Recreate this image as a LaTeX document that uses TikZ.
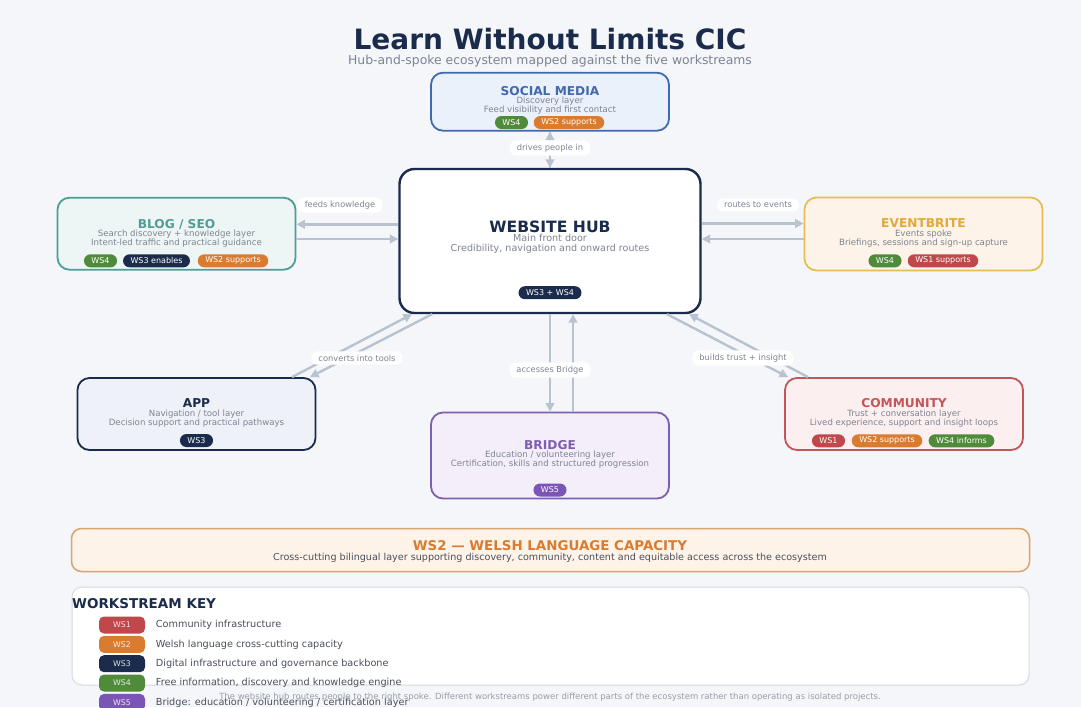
\documentclass[tikz,border=0pt]{standalone}
\usepackage{fontspec}
\setmainfont{DejaVu Sans}
\usetikzlibrary{arrows.meta}
\definecolor{bgcol}{HTML}{F4F6F9}
\definecolor{navy}{HTML}{1B2B4B}
\definecolor{subgray}{HTML}{7D8492}
\definecolor{keyink}{HTML}{4A4F5A}
\definecolor{flowgray}{HTML}{B9C2CF}
\definecolor{blueline}{HTML}{4169B0}
\definecolor{bluefill}{HTML}{EAF1FB}
\definecolor{tealline}{HTML}{4E9E97}
\definecolor{tealfill}{HTML}{EDF6F4}
\definecolor{goldline}{HTML}{E6BC55}
\definecolor{goldtext}{HTML}{E0A93A}
\definecolor{creamfill}{HTML}{FDF3E9}
\definecolor{appfill}{HTML}{EEF1F8}
\definecolor{purpleline}{HTML}{7D5FB2}
\definecolor{purplefill}{HTML}{F4EEFA}
\definecolor{redline}{HTML}{C2565A}
\definecolor{redfill}{HTML}{FBEFEF}
\definecolor{barline}{HTML}{D9A26E}
\definecolor{keyline}{HTML}{D3DAE3}
\definecolor{wsred}{HTML}{C0474A}
\definecolor{wsorange}{HTML}{D97C30}
\definecolor{wsgreen}{HTML}{4F8B3B}
\definecolor{wspurple}{HTML}{7B55B5}
\begin{document}
\begin{tikzpicture}[x=1pt,y=-1pt,
	spoke/.style={rounded corners=12pt, line width=1.8pt, minimum width=238pt},
	head/.style={font=\bfseries\fontsize{12.2}{13}\selectfont, inner sep=0pt, text depth=0pt},
	sub/.style={text=subgray, font=\fontsize{8.6}{9}\selectfont, inner sep=0pt, text height=6.3pt, text depth=1.6pt},
	badge/.style={fill=#1, text=white, rounded corners=6.5pt, minimum height=13pt, inner xsep=7.5pt, inner ysep=0pt, font=\fontsize{8}{8}\selectfont},
	flow/.style={draw=flowgray, line width=2.4pt, -{Triangle[length=8.5pt,width=8.5pt]}},
	tag/.style={fill=white, rounded corners=6pt, text=subgray, font=\fontsize{8.3}{9}\selectfont, inner xsep=7pt, inner ysep=3.5pt},
	keybadge/.style={fill=#1, text=white!85!#1, rounded corners=5pt, minimum width=46pt, minimum height=17pt, inner sep=0pt, font=\fontsize{7.8}{8}\selectfont},
	keyrow/.style={anchor=west, text=keyink, font=\fontsize{9.7}{10}\selectfont, inner sep=0pt}
	]
		\fill [bgcol] (0,0) rectangle (1081,707);
		\useasboundingbox (0,0) rectangle (1081,707);
		% Titel
		\node [text=navy, font=\bfseries\fontsize{28}{30}\selectfont] (title) at (550,39.5) {Learn Without Limits CIC};
		\node [text=subgray, font=\fontsize{12.4}{13}\selectfont] (subtitle) at (550,61) {Hub-and-spoke ecosystem mapped against the five workstreams};
		% Boxes
		\node [spoke, draw=blueline, fill=bluefill, minimum height=58pt] (social) at (550,101.7) {};
		\node [spoke, draw=navy, fill=white, line width=2.4pt, rounded corners=15pt, minimum width=301pt, minimum height=144pt] (hub) at (550,241) {};
		\node [spoke, draw=tealline, fill=tealfill, minimum height=72pt] (blog) at (176.5,233.7) {};
		\node [spoke, draw=goldline, fill=creamfill, minimum height=73pt] (event) at (923.5,234) {};
		\node [spoke, draw=navy, fill=appfill, minimum height=72pt] (app) at (196.5,414) {};
		\node [spoke, draw=purpleline, fill=purplefill, minimum height=86pt] (bridge) at (550,455.5) {};
		\node [spoke, draw=redline, fill=redfill, minimum height=72pt] (comm) at (904,414) {};
		% Pfeile
		\draw [flow] (hub.north) -- (social.south);
		\draw [flow] (social.south) -- (hub.north);
		\draw [flow] (hub.west |- 0,224.3) -- (blog.east |- 0,224.3);
		\draw [flow] (blog.east |- 0,239) -- (hub.west |- 0,239);
		\draw [flow] (hub.east |- 0,223.5) -- (event.west |- 0,223.5);
		\draw [flow] (event.west |- 0,239) -- (hub.east |- 0,239);
		\draw [flow] (292,0 |- app.north) -- (412,0 |- hub.south);
		\draw [flow] (432,0 |- hub.south) -- (310,0 |- app.north);
		\draw [flow] (550,0 |- hub.south) -- (550,0 |- bridge.north);
		\draw [flow] (573,0 |- bridge.north) -- (573,0 |- hub.south);
		\draw [flow] (667,0 |- hub.south) -- (788,0 |- comm.north);
		\draw [flow] (808,0 |- comm.north) -- (689,0 |- hub.south);
		\node [tag] (drives) at (550,148) {drives people in};
		\node [tag] (feeds) at (340,205) {feeds knowledge};
		\node [tag] (routes) at (758,205) {routes to events};
		\node [tag] (converts) at (357,358) {converts into tools};
		\node [tag] (accesses) at (550,370) {accesses Bridge};
		\node [tag] (builds) at (743,358) {builds trust + insight};
		% Social Media
		\node [head, text=blueline] (socialT) at (550,90.8) {SOCIAL MEDIA};
		\node [sub] (socialA) at (550,101.5) {Discovery layer};
		\node [sub] (socialB) at (550,110.3) {Feed visibility and first contact};
		\node [badge=wsgreen] (socialW1) at (511.5,122.5) {WS4};
		\node [badge=wsorange] (socialW2) at (569,122.5) {WS2 supports};
		% Website Hub
		\node [text=navy, font=\bfseries\fontsize{15.6}{16}\selectfont, inner sep=0pt, text depth=0pt] (hubT) at (550,226.6) {WEBSITE HUB};
		\node [sub, font=\fontsize{9.6}{10}\selectfont, text height=7pt, text depth=1.8pt] (hubA) at (550,238.8) {Main front door};
		\node [sub, font=\fontsize{9.6}{10}\selectfont, text height=7pt, text depth=1.8pt] (hubB) at (550,248.8) {Credibility, navigation and onward routes};
		\node [badge=navy] (hubW) at (550,292.7) {WS3 + WS4};
		% Blog / SEO
		\node [head, text=tealline] (blogT) at (176.5,223.5) {BLOG / SEO};
		\node [sub] (blogA) at (176.5,234.5) {Search discovery + knowledge layer};
		\node [sub] (blogB) at (176.5,243.2) {Intent-led traffic and practical guidance};
		\node [badge=wsgreen] (blogW1) at (100.5,260.8) {WS4};
		\node [badge=navy] (blogW2) at (156.5,260.8) {WS3 enables};
		\node [badge=wsorange] (blogW3) at (233,260.8) {WS2 supports};
		% Eventbrite
		\node [head, text=goldtext] (eventT) at (923.5,223.3) {EVENTBRITE};
		\node [sub] (eventA) at (923.5,234.4) {Events spoke};
		\node [sub] (eventB) at (923.5,243.2) {Briefings, sessions and sign-up capture};
		\node [badge=wsgreen] (eventW1) at (885,260.8) {WS4};
		\node [badge=wsred] (eventW2) at (943,260.8) {WS1 supports};
		% App
		\node [head, text=navy] (appT) at (196.5,403.2) {APP};
		\node [sub] (appA) at (196.5,414) {Navigation / tool layer};
		\node [sub] (appB) at (196.5,423) {Decision support and practical pathways};
		\node [badge=navy] (appW) at (196.5,440.5) {WS3};
		% Bridge
		\node [head, text=purpleline] (bridgeT) at (550,444.9) {BRIDGE};
		\node [sub] (bridgeA) at (550,455.5) {Education / volunteering layer};
		\node [sub] (bridgeB) at (550,464.5) {Certification, skills and structured progression};
		\node [badge=wspurple] (bridgeW) at (550,490) {WS5};
		% Community
		\node [head, text=redline] (commT) at (904,403.2) {COMMUNITY};
		\node [sub] (commA) at (904,413.8) {Trust + conversation layer};
		\node [sub] (commB) at (904,423) {Lived experience, support and insight loops};
		\node [badge=wsred] (commW1) at (828.5,440.8) {WS1};
		\node [badge=wsorange] (commW2) at (887,440.8) {WS2 supports};
		\node [badge=wsgreen] (commW3) at (961.5,440.8) {WS4 informs};
		% WS2 Leiste
		\node [draw=barline, fill=creamfill, line width=1.5pt, rounded corners=10pt, minimum width=958pt, minimum height=43pt] (ws2bar) at (550.5,550) {};
		\node [text=wsorange, font=\bfseries\fontsize{13.4}{14}\selectfont, inner sep=0pt, text depth=0pt] (ws2T) at (550,545.2) {WS2 — WELSH LANGUAGE CAPACITY};
		\node [text=keyink, font=\fontsize{9.6}{10}\selectfont, inner sep=0pt] (ws2A) at (550,557.6) {Cross-cutting bilingual layer supporting discovery, community, content and equitable access across the ecosystem};
		% Key
		\node [draw=keyline, fill=white, line width=1pt, rounded corners=10pt, minimum width=957pt, minimum height=98pt] (keypanel) at (550.5,636) {};
		\node [anchor=west, text=navy, font=\bfseries\fontsize{13.5}{14}\selectfont, inner sep=0pt] (keyT) at (72,603.3) {WORKSTREAM KEY};
		\foreach \c/\w/\t [count=\i] in {wsred/WS1/{Community infrastructure}, wsorange/WS2/{Welsh language cross-cutting capacity}, navy/WS3/{Digital infrastructure and governance backbone}, wsgreen/WS4/{Free information, discovery and knowledge engine}, wspurple/WS5/{Bridge: education / volunteering / certification layer}}{
			\node [keybadge=\c] (key\i) at (122,625+19.35*\i-19.35) {\w};
			\node [keyrow] (keyR\i) at (155.7,625+19.35*\i-19.35) {\t};
		}
		\node [text=subgray!80, font=\fontsize{8.5}{9}\selectfont, inner sep=0pt] (footer) at (550,696.7) {The website hub routes people to the right spoke. Different workstreams power different parts of the ecosystem rather than operating as isolated projects.};
\end{tikzpicture}
\end{document}
